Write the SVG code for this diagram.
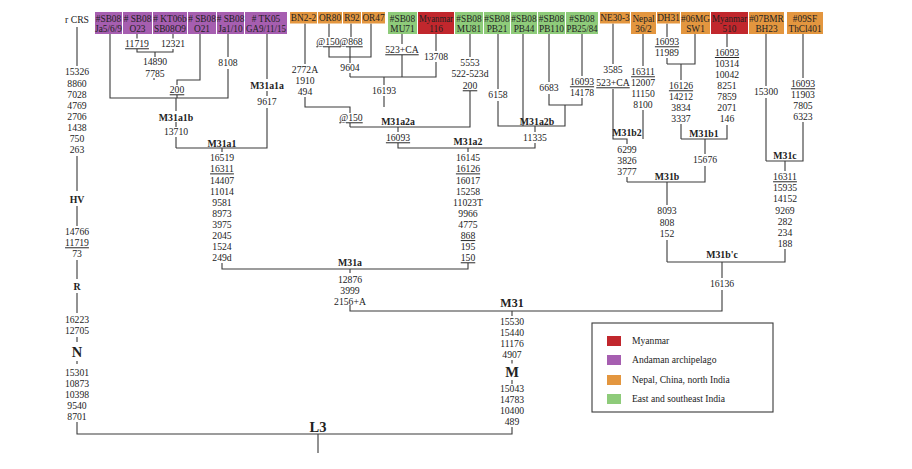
<svg xmlns="http://www.w3.org/2000/svg" width="912" height="469" viewBox="0 0 912 469">
<style>
text{font-family:"Liberation Serif","Times New Roman",serif;fill:#222;text-anchor:middle}
.n{font-size:9.7px}
.u{text-decoration:underline}
.b{font-size:9.8px;font-weight:bold}
.bb{font-size:14.5px;font-weight:bold}
.m{font-size:12px;font-weight:bold}
.bx{font-size:9.3px}
.lg{font-size:9.6px;text-anchor:start}
.c{stroke:#3a3a3a;stroke-width:1.1;fill:none}
.pu{fill:#a65eb0}.or{fill:#e3963f}.gr{fill:#8ecb7a}.rd{fill:#c1272d}
</style>
<rect width="912" height="469" fill="#fff"/>
<g id="connectors" class="c">
<path d="M77,27V66M77,156V191M77,206V226M77,260V279M77,293V313M77,337V342M77,361V364M77,422V434H512V427M318,434V453M512,311V316M512,360V363.5M512,380V384"/>
<path d="M350,305V311H722V290M722,278V262M667,262H785V249M667,262V240M667,205V182M627,182H705V166M627,182V177M705,154V139M681,139H727V125M681,139V124M681,80V64M667,64H695V34M667,64V58M667,23.5V37M727,34V47M627,144V139H613V89M643,139V110M613,23.5V64M643,34V66M766,161H803V122M766,161V98M766,34V86M803,34V78M785,161V171"/>
<path d="M222,263V269H468V263M350,269V273M222,148V152M176,148H267V108M176,148V137M267,96V91M267,34V79M176,127V122M176,111V98M110,34V98H228V69M228,34V57M177,98V95M177,85V80H200V34M154,80V78M155,57V52M137,49V52H173V49M137,34V38.5M173,34V38.5"/>
<path d="M398,143V148H535V143M468,148V152M398,127V132M350,127H470V91M350,127V123M350,113V107H305V97M384,107V96M305,23.5V64M384,77V85M350,77H436V62M402,77V55M402,34V44M436,34V51M350,73V77M350,63V47M329,47V57H371V23.5M351,23.5V37M329,23.5V37M470,34V57M535,126V132M498,34V89M498,101V126H565V105M523,34V126M549,34V82M549,94V105H582V98M582,34V76"/>
</g>
<g id="rCRS-root">
<text class="n" x="77" y="23">r CRS</text>
<text class="n" x="77" y="75.3">15326</text><text class="n" x="77" y="87.3">8860</text><text class="n" x="77" y="98.3">7028</text><text class="n" x="77" y="109.3">4769</text><text class="n" x="77" y="120.3">2706</text><text class="n" x="77" y="131.3">1438</text><text class="n" x="77" y="142.3">750</text><text class="n" x="77" y="153.3">263</text>
<text class="b" x="77" y="202.5">HV</text>
<text class="n" x="77" y="235.3">14766</text><text class="n u" x="77" y="246.3">11719</text><text class="n" x="77" y="257.3">73</text>
<text class="b" x="77" y="289.8">R</text>
<text class="n" x="77" y="323.3">16223</text><text class="n" x="77" y="334.3">12705</text>
<text class="bb" x="77" y="357">N</text>
<text class="n" x="77" y="376.3">15301</text><text class="n" x="77" y="387.3">10873</text><text class="n" x="77" y="398.3">10398</text><text class="n" x="77" y="409.3">9540</text><text class="n" x="77" y="420.3">8701</text>
</g>
<g id="L3"><text class="bb" x="318" y="432">L3</text></g>
<g id="M">
<text class="m" x="512" y="307">M31</text>
<text class="n" x="512" y="325.3">15530</text><text class="n" x="512" y="336.3">15440</text><text class="n" x="512" y="347.3">11176</text><text class="n" x="512" y="358.3">4907</text>
<text class="bb" x="512" y="377">M</text>
<text class="n" x="512" y="392.3">15043</text><text class="n" x="512" y="403.3">14783</text><text class="n" x="512" y="414.3">10400</text><text class="n" x="512" y="425.3">489</text>
</g>
<g id="M31a">
<text class="b" x="350" y="265.5">M31a</text>
<text class="n" x="350" y="283.3">12876</text><text class="n" x="350" y="294.3">3999</text><text class="n" x="350" y="305.3">2156+A</text>
</g>
<g id="M31a1">
<text class="b" x="222" y="146.5">M31a1</text>
<text class="n" x="222" y="161.3">16519</text><text class="n u" x="222" y="172.4">16311</text><text class="n" x="222" y="183.5">14407</text><text class="n" x="222" y="194.6">11014</text><text class="n" x="222" y="205.7">9581</text><text class="n" x="222" y="216.9">8973</text><text class="n" x="222" y="228">3975</text><text class="n" x="222" y="239.1">2045</text><text class="n" x="222" y="250.2">1524</text><text class="n" x="222" y="261.3">249d</text>
</g>
<g id="M31a2">
<text class="b" x="468" y="144.5">M31a2</text>
<text class="n" x="468" y="161.3">16145</text><text class="n u" x="468" y="172.4">16126</text><text class="n" x="468" y="183.5">16017</text><text class="n" x="468" y="194.6">15258</text><text class="n" x="468" y="205.7">11023T</text><text class="n" x="468" y="216.9">9966</text><text class="n" x="468" y="228">4775</text><text class="n u" x="468" y="239.1">868</text><text class="n" x="468" y="250.2">195</text><text class="n u" x="468" y="261.3">150</text>
</g>
<g id="M31a1b">
<text class="n u" x="137" y="47.3">11719</text><text class="n" x="173" y="47.3">12321</text>
<text class="n" x="155" y="65.3">14890</text><text class="n" x="155" y="77.3">7785</text>
<text class="n" x="228" y="66.3">8108</text>
<text class="n u" x="177" y="93.3">200</text>
<text class="b" x="176" y="120.5">M31a1b</text>
<text class="n" x="176" y="135.3">13710</text>
</g>
<g id="M31a1a">
<text class="b" x="267" y="88.5">M31a1a</text>
<text class="n" x="267" y="105.3">9617</text>
</g>
<g id="M31a2a">
<text class="n" x="305" y="73.3">2772A</text><text class="n" x="305" y="84.3">1910</text><text class="n" x="305" y="95.3">494</text>
<text class="n u" x="328" y="45.3">@150</text><text class="n u" x="351" y="45.3">@868</text>
<text class="n" x="350" y="71.3">9604</text>
<text class="n u" x="402" y="53.3">523+CA</text>
<text class="n" x="436" y="60.3">13708</text>
<text class="n" x="384" y="94.3">16193</text>
<text class="n u" x="351" y="121.3">@150</text>
<text class="b" x="398" y="124.5">M31a2a</text>
<text class="n u" x="398" y="141.3">16093</text>
<text class="n" x="470" y="66.3">5553</text><text class="n" x="470" y="77.3">522-523d</text><text class="n u" x="470" y="89.3">200</text>
</g>
<g id="M31a2b">
<text class="n" x="498" y="98.3">6158</text>
<text class="n" x="549" y="91.3">6683</text>
<text class="n u" x="582" y="85.3">16093</text><text class="n" x="582" y="96.3">14178</text>
<text class="b" x="537" y="124.5">M31a2b</text>
<text class="n" x="535" y="141.3">11335</text>
</g>
<g id="M31b2">
<text class="n" x="613" y="73.3">3585</text><text class="n u" x="613" y="86.3">523+CA</text>
<text class="n u" x="643" y="75.3">16311</text><text class="n" x="643" y="86.3">12007</text><text class="n" x="643" y="97.3">11150</text><text class="n" x="643" y="108.3">8100</text>
<text class="b" x="627" y="135.5">M31b2</text>
<text class="n" x="627" y="153.3">6299</text><text class="n" x="627" y="164.3">3826</text><text class="n" x="627" y="175.3">3777</text>
</g>
<g id="M31b1">
<text class="n u" x="667" y="45.3">16093</text><text class="n" x="667" y="56.3">11989</text>
<text class="n u" x="681" y="89.3">16126</text><text class="n" x="681" y="100.3">14212</text><text class="n" x="681" y="111.3">3834</text><text class="n" x="681" y="122.3">3337</text>
<text class="n u" x="727" y="56">16093</text><text class="n" x="727" y="67.3">10314</text><text class="n" x="727" y="78.3">10042</text><text class="n" x="727" y="89.3">8251</text><text class="n" x="727" y="100.3">7859</text><text class="n" x="727" y="111.3">2071</text><text class="n" x="727" y="122.3">146</text>
<text class="b" x="704" y="136.5">M31b1</text>
<text class="n" x="705" y="163.3">15676</text>
</g>
<g id="M31b">
<text class="b" x="667" y="179.5">M31b</text>
<text class="n" x="667" y="214.3">8093</text><text class="n" x="667" y="225.8">808</text><text class="n" x="667" y="236.8">152</text>
</g>
<g id="M31c">
<text class="n" x="766" y="95.3">15300</text>
<text class="n u" x="803" y="87.3">16093</text><text class="n" x="803" y="98.3">11903</text><text class="n" x="803" y="109.3">7805</text><text class="n" x="803" y="120.3">6323</text>
<text class="b" x="785" y="159">M31c</text>
<text class="n u" x="785" y="180.3">16311</text><text class="n" x="785" y="191.3">15935</text><text class="n" x="785" y="202.3">14152</text><text class="n" x="785" y="213.8">9269</text><text class="n" x="785" y="225.3">282</text><text class="n" x="785" y="236.3">234</text><text class="n" x="785" y="247.3">188</text>
</g>
<g id="M31bc">
<text class="b" x="722" y="257.5">M31b'c</text>
<text class="n" x="722" y="287.3">16136</text>
</g>
<g id="samples">
<g id="s-Ja5"><rect class="pu" x="95" y="12" width="27" height="22"/><text class="bx" x="108.5" y="22">#SB08</text><text class="bx" x="108.5" y="32.3">Ja5/6/9</text></g>
<g id="s-O23"><rect class="pu" x="123" y="12" width="29" height="22"/><text class="bx" x="137.5" y="22"># SB08</text><text class="bx" x="137.5" y="32.3">O23</text></g>
<g id="s-O9"><rect class="pu" x="153" y="12" width="34" height="22"/><text class="bx" x="170" y="22"># KT06b</text><text class="bx" x="170" y="32.3">SB08O9</text></g>
<g id="s-O21"><rect class="pu" x="188" y="12" width="28" height="22"/><text class="bx" x="202" y="22"># SB08</text><text class="bx" x="202" y="32.3">O21</text></g>
<g id="s-Ja1"><rect class="pu" x="217" y="12" width="27" height="22"/><text class="bx" x="230.5" y="22"># SB08</text><text class="bx" x="230.5" y="32.3">Ja1/10</text></g>
<g id="s-TK05"><rect class="pu" x="245" y="12" width="42" height="22"/><text class="bx" x="266" y="22"># TK05</text><text class="bx" x="266" y="32.3" textLength="40" lengthAdjust="spacingAndGlyphs">GA9/11/15</text></g>
<g id="s-BN2"><rect class="or" x="290" y="12" width="27" height="11.5"/><text class="bx" x="303.5" y="21.3">BN2-2</text></g>
<g id="s-OR80"><rect class="or" x="318" y="12" width="24" height="11.5"/><text class="bx" x="330" y="21.3">OR80</text></g>
<g id="s-R92"><rect class="or" x="343" y="12" width="18" height="11.5"/><text class="bx" x="352" y="21.3">R92</text></g>
<g id="s-OR47"><rect class="or" x="362" y="12" width="23" height="11.5"/><text class="bx" x="373.5" y="21.3">OR47</text></g>
<g id="s-MU71"><rect class="gr" x="388" y="12" width="29" height="22"/><text class="bx" x="402.5" y="22">#SB08</text><text class="bx" x="402.5" y="32.3">MU71</text></g>
<g id="s-My116"><rect class="rd" x="418" y="12" width="36" height="22"/><text class="bx" x="436" y="22" textLength="34" lengthAdjust="spacingAndGlyphs">Myanmar</text><text class="bx" x="436" y="32.3">116</text></g>
<g id="s-MU81"><rect class="gr" x="455" y="12" width="28" height="22"/><text class="bx" x="469" y="22">#SB08</text><text class="bx" x="469" y="32.3">MU81</text></g>
<g id="s-PB21"><rect class="gr" x="484" y="12" width="26" height="22"/><text class="bx" x="497" y="22">#SB08</text><text class="bx" x="497" y="32.3">PB21</text></g>
<g id="s-PB44"><rect class="gr" x="511" y="12" width="26" height="22"/><text class="bx" x="524" y="22">#SB08</text><text class="bx" x="524" y="32.3">PB44</text></g>
<g id="s-PB110"><rect class="gr" x="538" y="12" width="27" height="22"/><text class="bx" x="551.5" y="22">#SB08</text><text class="bx" x="551.5" y="32.3">PB110</text></g>
<g id="s-PB25"><rect class="gr" x="566" y="12" width="32" height="22"/><text class="bx" x="582" y="22">#SB08</text><text class="bx" x="582" y="32.3" textLength="31" lengthAdjust="spacingAndGlyphs">PB25/84</text></g>
<g id="s-NE30"><rect class="or" x="600" y="12" width="30" height="11.5"/><text class="bx" x="615" y="21.3">NE30-3</text></g>
<g id="s-Nepal"><rect class="or" x="631" y="12" width="25" height="22"/><text class="bx" x="643.5" y="22">Nepal</text><text class="bx" x="643.5" y="32.3">36/2</text></g>
<g id="s-DH31"><rect class="or" x="657" y="12" width="23" height="11.5"/><text class="bx" x="668.5" y="21.3">DH31</text></g>
<g id="s-06MG"><rect class="or" x="681" y="12" width="29" height="22"/><text class="bx" x="695.5" y="22">#06MG</text><text class="bx" x="695.5" y="32.3">SW1</text></g>
<g id="s-My510"><rect class="rd" x="711" y="12" width="37" height="22"/><text class="bx" x="729.5" y="22" textLength="35" lengthAdjust="spacingAndGlyphs">Myanmar</text><text class="bx" x="729.5" y="32.3">510</text></g>
<g id="s-07BMR"><rect class="or" x="749" y="12" width="35" height="22"/><text class="bx" x="766.5" y="22">#07BMR</text><text class="bx" x="766.5" y="32.3">BH23</text></g>
<g id="s-09SF"><rect class="or" x="787" y="12" width="36" height="22"/><text class="bx" x="805" y="22">#09SF</text><text class="bx" x="805" y="32.3">ThCl401</text></g>
</g>
<g id="legend">
<rect x="592" y="323" width="181" height="89" fill="#fff" stroke="#3a3a3a" stroke-width="1.1"/>
<rect class="rd" x="607" y="336" width="14" height="10"/><text class="lg" x="632" y="344.3">Myanmar</text>
<rect class="pu" x="607" y="355" width="14" height="10"/><text class="lg" x="632" y="363.3">Andaman archipelago</text>
<rect class="or" x="607" y="375" width="14" height="10"/><text class="lg" x="632" y="383.3">Nepal, China, north India</text>
<rect class="gr" x="607" y="394" width="14" height="10"/><text class="lg" x="632" y="402.3">East and southeast India</text>
</g>
</svg>
